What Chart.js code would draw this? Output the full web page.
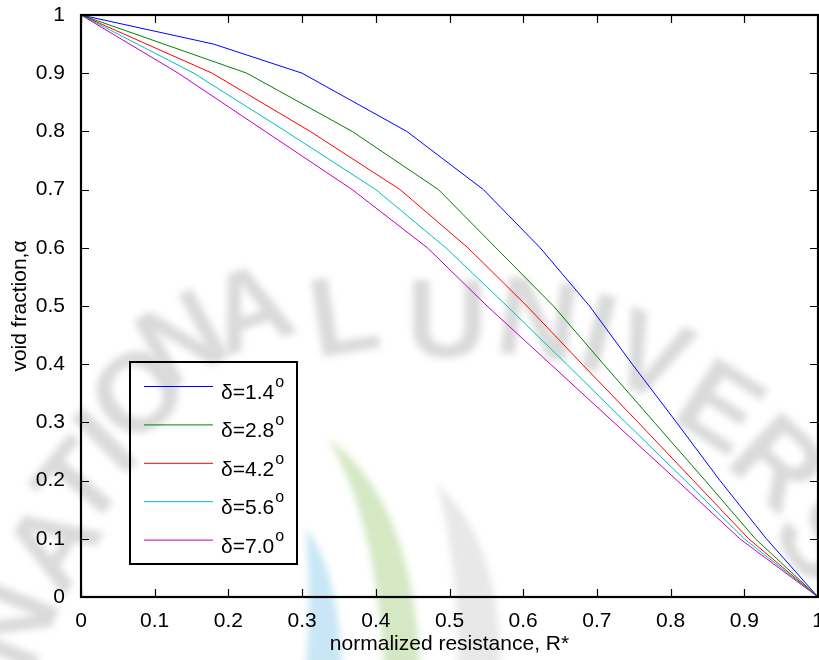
<!DOCTYPE html>
<html>
<head>
<meta charset="utf-8">
<script src="https://cdn.jsdelivr.net/npm/chart.js@4.4.0/dist/chart.umd.min.js"></script>
<style>
  html, body { margin: 0; padding: 0; background: #fff; }
</style>
</head>
<body>
<canvas id="myChart" width="819" height="660"></canvas>
<script>
// void fraction levels (y) and normalized resistance R* (x) for each angle
const alphaBlue = [1, 0.95, 0.9, 0.8, 0.7, 0.6, 0.5, 0.4, 0.3, 0.2, 0.1, 0];
const alphaLevels = [1, 0.9, 0.8, 0.7, 0.6, 0.5, 0.4, 0.3, 0.2, 0.1, 0];

const rDelta14 = [0, 0.18, 0.30, 0.442, 0.546, 0.623, 0.69, 0.748, 0.808, 0.867, 0.93, 1];
const rDelta28 = [0, 0.225, 0.368, 0.485, 0.563, 0.641, 0.709, 0.778, 0.847, 0.915, 1];
const rDelta42 = [0, 0.178, 0.311, 0.433, 0.525, 0.605, 0.68, 0.756, 0.831, 0.906, 1];
const rDelta56 = [0, 0.153, 0.278, 0.40, 0.495, 0.578, 0.659, 0.739, 0.82, 0.90, 1];
const rDelta70 = [0, 0.132, 0.25, 0.368, 0.47, 0.551, 0.637, 0.723, 0.809, 0.894, 1];

const legendLabels = ["1.4", "2.8", "4.2", "5.6", "7.0"];
const lineColors = ["#0000ff", "#008000", "#ff0000", "#00bfbf", "#bf00bf"];

const xTicks = [0, 0.1, 0.2, 0.3, 0.4, 0.5, 0.6, 0.7, 0.8, 0.9, 1];
const yTicks = [0, 0.1, 0.2, 0.3, 0.4, 0.5, 0.6, 0.7, 0.8, 0.9, 1];

function toPoints(xs, ys) {
  return xs.map(function (x, i) { return { x: x, y: ys[i] }; });
}

const FONT = "'Liberation Sans', Arial, sans-serif";

// faded watermark behind the plot
function drawWatermark(ctx) {
  ctx.save();
  ctx.filter = "blur(3.5px)";

  // coloured crescents
  function crescent(color, top, rc, rb, lb, lc) {
    ctx.fillStyle = color;
    ctx.beginPath();
    ctx.moveTo(top[0], top[1]);
    ctx.quadraticCurveTo(rc[0], rc[1], rb[0], rb[1]);
    ctx.lineTo(lb[0], lb[1]);
    ctx.quadraticCurveTo(lc[0], lc[1], top[0], top[1]);
    ctx.fill();
  }
  crescent("rgb(200,230,245)", [306, 528], [338, 570], [342, 665], [306, 665], [312, 600]);
  crescent("rgb(212,232,196)", [328, 438], [412, 500], [420, 665], [384, 665], [376, 520]);
  crescent("rgb(232,232,232)", [437, 484], [500, 540], [500, 665], [458, 665], [458, 560]);

  ctx.fillStyle = "rgb(218,218,218)";
  ctx.font = "bold 112px " + FONT;
  ctx.textAlign = "center";
  ctx.textBaseline = "middle";
  const letters = [
    ["N", 18, 628, -68], ["A", 58, 548, -58], ["T", 84, 488, -50], ["I", 110, 446, -45],
    ["O", 142, 398, -38], ["N", 185, 345, -29], ["A", 252, 315, -19], ["L", 345, 322, -9],
    ["U", 447, 326, 0], ["N", 537, 326, 7], ["I", 597, 340, 14], ["V", 648, 362, 22],
    ["E", 717, 412, 33], ["R", 774, 468, 43], ["S", 816, 542, 53]
  ];
  letters.forEach(function (l) {
    ctx.save();
    ctx.translate(l[1], l[2]);
    ctx.rotate(l[3] * Math.PI / 180);
    ctx.fillText(l[0], 0, 0);
    ctx.restore();
  });
  ctx.restore();
}

const backgroundPlugin = {
  id: "background",
  beforeDraw: function (chart) {
    const ctx = chart.ctx;
    ctx.save();
    ctx.fillStyle = "#fff";
    ctx.fillRect(0, 0, chart.width, chart.height);
    ctx.restore();
    drawWatermark(ctx);
  }
};

// MATLAB-like box with inward ticks, plus the legend
const framePlugin = {
  id: "frame",
  afterDraw: function (chart) {
    const ctx = chart.ctx;
    const a = chart.chartArea;
    const xs = chart.scales.x;
    const ys = chart.scales.y;
    ctx.save();
    ctx.strokeStyle = "#000";
    ctx.lineWidth = 1.2;
    const tl = 8;
    ctx.beginPath();
    xTicks.forEach(function (v) {
      const px = Math.round(xs.getPixelForValue(v)) + 0.5;
      ctx.moveTo(px, a.bottom); ctx.lineTo(px, a.bottom - tl);
      ctx.moveTo(px, a.top); ctx.lineTo(px, a.top + tl);
    });
    yTicks.forEach(function (v) {
      const py = Math.round(ys.getPixelForValue(v)) + 0.5;
      ctx.moveTo(a.left, py); ctx.lineTo(a.left + tl, py);
      ctx.moveTo(a.right, py); ctx.lineTo(a.right - tl, py);
    });
    ctx.stroke();
    ctx.lineWidth = 2.2;
    ctx.strokeRect(a.left, a.top, a.right - a.left, a.bottom - a.top);

    // legend
    const bx = 130, by = 362, bw = 167, bh = 202;
    ctx.lineWidth = 2;
    ctx.strokeRect(bx, by, bw, bh);
    chart.data.datasets.forEach(function (ds, i) {
      const ly = 386 + i * 38.4;
      ctx.strokeStyle = ds.borderColor;
      ctx.lineWidth = 1;
      ctx.beginPath();
      ctx.moveTo(144, ly + 0.5);
      ctx.lineTo(213, ly + 0.5);
      ctx.stroke();
      ctx.fillStyle = "#000";
      ctx.textBaseline = "alphabetic";
      ctx.textAlign = "left";
      ctx.font = "21px " + FONT;
      const main = "\u03b4=" + legendLabels[i];
      ctx.fillText(main, 221, ly + 13);
      const w = ctx.measureText(main).width;
      ctx.font = "16px " + FONT;
      ctx.fillText("o", 221 + w + 1, ly + 1);
    });
    ctx.restore();
  }
};

function fmt(v) {
  return String(Number(v.toFixed(1)));
}

const ctx = document.getElementById("myChart").getContext("2d");
const chart = new Chart(ctx, {
  type: "scatter",
  data: {
    datasets: [
      { label: "\u03b4=1.4", data: toPoints(rDelta14, alphaBlue), borderColor: lineColors[0] },
      { label: "\u03b4=2.8", data: toPoints(rDelta28, alphaLevels), borderColor: lineColors[1] },
      { label: "\u03b4=4.2", data: toPoints(rDelta42, alphaLevels), borderColor: lineColors[2] },
      { label: "\u03b4=5.6", data: toPoints(rDelta56, alphaLevels), borderColor: lineColors[3] },
      { label: "\u03b4=7.0", data: toPoints(rDelta70, alphaLevels), borderColor: lineColors[4] }
    ].map(function (d) {
      d.showLine = true;
      d.pointRadius = 0;
      d.borderWidth = 1;
      d.tension = 0;
      d.fill = false;
      return d;
    })
  },
  options: {
    responsive: false,
    animation: false,
    layout: { padding: { top: 15, right: 1, left: 0, bottom: 0 } },
    plugins: { legend: { display: false }, tooltip: { enabled: false } },
    scales: {
      x: {
        type: "linear", min: 0, max: 1,
        grid: { display: false },
        border: { display: false },
        afterBuildTicks: function (s) { s.ticks = xTicks.map(function (v) { return { value: v }; }); },
        ticks: { color: "#000", font: { size: 21, family: FONT }, padding: 4, maxRotation: 0, callback: fmt },
        title: { display: true, text: "normalized resistance, R*", color: "#000",
                 font: { size: 21, family: FONT }, padding: { top: 0, bottom: 3 } },
        afterFit: function (s) { s.height = 63; s.paddingLeft = 0; s.paddingRight = 0; }
      },
      y: {
        type: "linear", min: 0, max: 1,
        grid: { display: false },
        border: { display: false },
        afterBuildTicks: function (s) { s.ticks = yTicks.map(function (v) { return { value: v }; }); },
        ticks: { color: "#000", font: { size: 21, family: FONT }, padding: 8, callback: fmt },
        title: { display: true, text: "void fraction,\u03b1", color: "#000",
                 font: { size: 21, family: FONT }, padding: { top: 8, bottom: 0 } },
        afterFit: function (s) { s.width = 81; s.paddingTop = 0; s.paddingBottom = 0; }
      }
    }
  },
  plugins: [backgroundPlugin, framePlugin]
});
</script>
</body>
</html>
